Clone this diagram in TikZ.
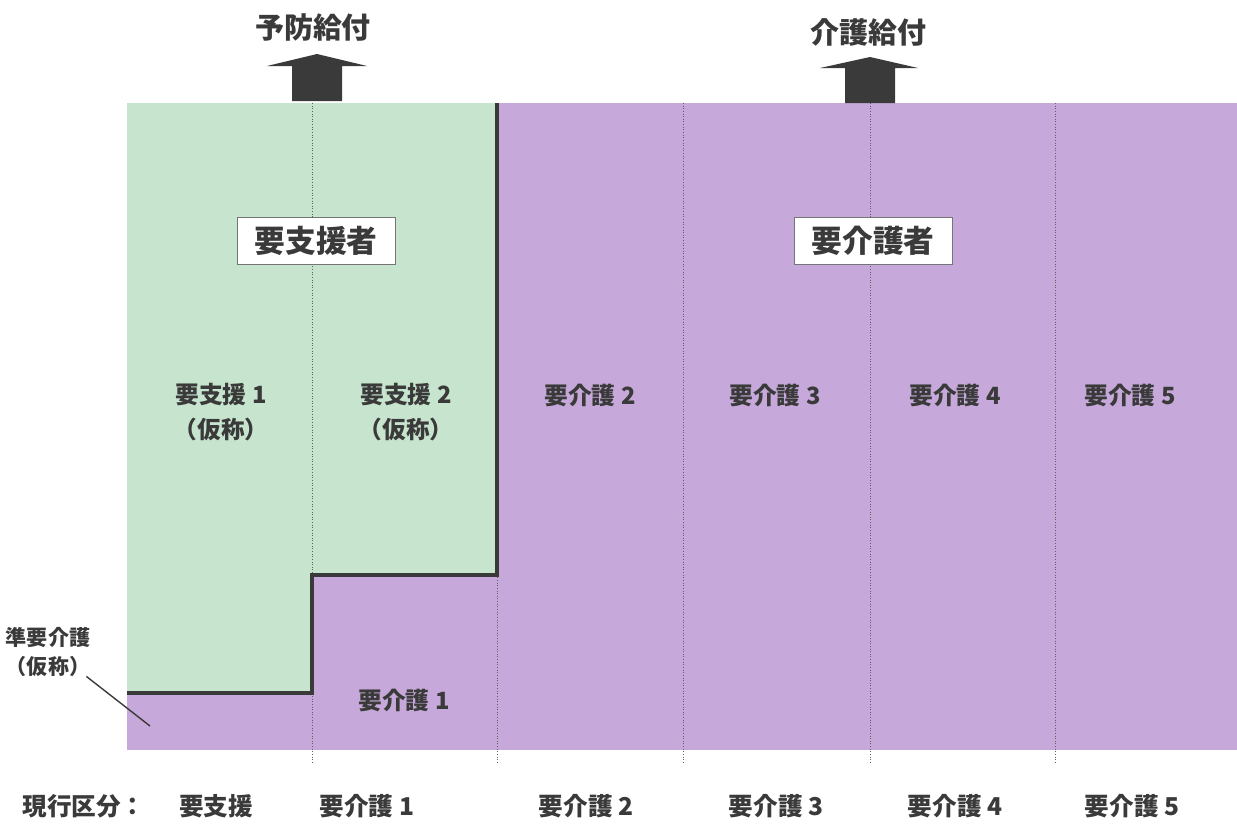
\documentclass[tikz,border=0pt]{standalone}
\usepackage{fontspec}
\setmainfont{Noto Sans CJK JP}
\usepackage{xcolor}
\definecolor{shienG}{HTML}{C6E4CE}
\definecolor{kaigoP}{HTML}{C6A9DA}
\definecolor{inkD}{HTML}{3A3A3A}
\tikzset{
  lbl/.style={text=inkD,font=\bfseries\fontsize{13.5}{20}\selectfont,align=center},
  boxlbl/.style={draw=inkD!70,fill=white,text=inkD,font=\bfseries\fontsize{17.5}{20}\selectfont,inner xsep=10pt,inner ysep=5pt},
  divline/.style={inkD!80,densely dotted,line width=0.5pt},
  stairline/.style={inkD,line width=2.2pt},
  blockarrow/.style={fill=inkD,draw=none}
}
\begin{document}
\begin{tikzpicture}[x=0.02cm,y=-0.02cm]
\useasboundingbox (0,0) rectangle (1237,832);
% areas
\fill[kaigoP](127,103) rectangle (1237,750);
\fill[shienG](127,103)--(497,103)--(497,575)--(312,575)--(312,693)--(127,693)--cycle;
% column dividers
\foreach \cx in {312,497,683,870,1055}
  \draw[divline](\cx,103)--(\cx,762);
\draw[stairline](127,693)--(312,693)--(312,575)--(497,575)--(497,103);
% arrows on top
\fill[blockarrow](292,101)--(292,66)--(267,66)--(317,54)--(367,66)--(342,66)--(342,101)--cycle;
\fill[blockarrow](845,103)--(845,68)--(820,68)--(870,57)--(918,68)--(895,68)--(895,103)--cycle;
\node[lbl,font=\bfseries\fontsize{16.5}{19}\selectfont](T1)at(313,27){予防給付};
\node[lbl,font=\bfseries\fontsize{16.5}{19}\selectfont](T2)at(868,32){介護給付};
% group boxes
\node[boxlbl](G1)at(316,241){要支援者};
\node[boxlbl](G2)at(873,241){要介護者};
% level labels
\node[lbl](L1)at(221,412){要支援 1\\（仮称）};
\node[lbl](L2)at(406,412){要支援 2\\（仮称）};
\node[lbl](L3)at(590,395){要介護 2};
\node[lbl](L4)at(775,395){要介護 3};
\node[lbl](L5)at(955,395){要介護 4};
\node[lbl](L6)at(1130,395){要介護 5};
\node[lbl](L7)at(404,700){要介護 1};
\node[lbl,font=\bfseries\fontsize{12}{16}\selectfont](L0)at(48,652){準要介護\\（仮称）};
\coordinate(P0)at(150,726);
\draw[inkD,line width=0.8pt](L0.south east)++(-10,-6)--(P0);
% current classes
\node[lbl,font=\bfseries\fontsize{14}{16}\selectfont](C0)at(84,806){現行区分：};
\node[lbl,font=\bfseries\fontsize{14}{16}\selectfont](C1)at(216,806){要支援};
\node[lbl,font=\bfseries\fontsize{14}{16}\selectfont](C2)at(367,806){要介護 1};
\node[lbl,font=\bfseries\fontsize{14}{16}\selectfont](C3)at(586,806){要介護 2};
\node[lbl,font=\bfseries\fontsize{14}{16}\selectfont](C4)at(776,806){要介護 3};
\node[lbl,font=\bfseries\fontsize{14}{16}\selectfont](C5)at(955,806){要介護 4};
\node[lbl,font=\bfseries\fontsize{14}{16}\selectfont](C6)at(1132,806){要介護 5};
\end{tikzpicture}
\end{document}
